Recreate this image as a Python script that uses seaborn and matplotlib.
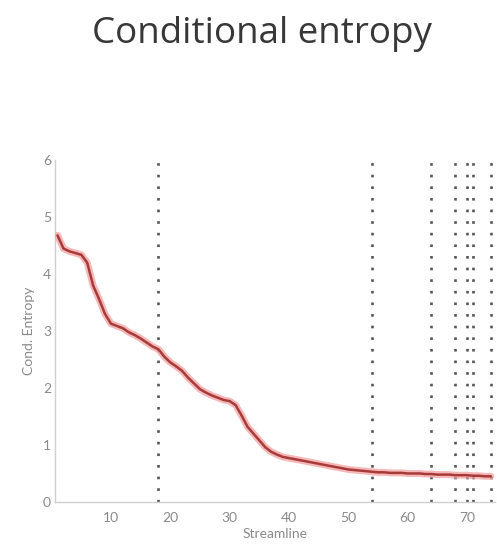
import numpy as np
import pandas as pd
import matplotlib
matplotlib.use("Agg")
import matplotlib.pyplot as plt
import seaborn as sns

# ---- data ----
streamline = list(range(1, 75))
cond_entropy = [4.68, 4.45, 4.40, 4.37, 4.34, 4.20, 3.80, 3.56, 3.30, 3.13,
                3.09, 3.05, 2.98, 2.93, 2.87, 2.80, 2.73, 2.68, 2.55, 2.45,
                2.38, 2.30, 2.18, 2.08, 1.98, 1.92, 1.87, 1.83, 1.79, 1.77,
                1.70, 1.52, 1.32, 1.20, 1.08, 0.96, 0.88, 0.83, 0.79, 0.77,
                0.75, 0.73, 0.71, 0.69, 0.67, 0.65, 0.63, 0.61, 0.59, 0.57,
                0.56, 0.55, 0.54, 0.53, 0.52, 0.52, 0.51, 0.51, 0.51, 0.50,
                0.50, 0.50, 0.49, 0.49, 0.48, 0.48, 0.48, 0.47, 0.47, 0.47,
                0.46, 0.46, 0.45, 0.45]
cut_points = [18, 54, 64, 68, 70, 71, 74]
x_ticks = [10, 20, 30, 40, 50, 60, 70]
y_ticks = [0, 1, 2, 3, 4, 5, 6]
title = "Conditional entropy"
x_label = "Streamline"
y_label = "Cond. Entropy"

df = pd.DataFrame({"Streamline": streamline, "Entropy": cond_entropy})

sns.set_style("white")
plt.rcParams["font.family"] = ["Lato", "DejaVu Sans"]

fig = plt.figure(figsize=(4.97, 5.45), dpi=100)
ax = fig.add_axes([0.111, 0.079, 0.885, 0.627])

# dotted vertical lines
ax.vlines(cut_points, 0, 6, colors="#555555", linewidth=1.9,
          linestyles=[(0, (1.0, 3.4))])

# red curve with pink halo
sns.lineplot(data=df, x="Streamline", y="Entropy", ax=ax, color="#f2a0a0",
             linewidth=5, alpha=0.75, zorder=3)
sns.lineplot(data=df, x="Streamline", y="Entropy", ax=ax, color="#a83a3a",
             linewidth=1.8, zorder=4)

ax.set_xlim(0.6, 74.7)
ax.set_ylim(0, 6)
ax.set_xticks(x_ticks)
ax.set_yticks(y_ticks)
ax.tick_params(axis="x", labelsize=10, length=0, pad=7)
ax.tick_params(axis="y", labelsize=10, length=0, pad=3)
for lbl in ax.get_xticklabels() + ax.get_yticklabels():
    lbl.set_color("#8a8a8a")
ax.set_xlabel(x_label, fontsize=10, color="#8a8a8a", labelpad=3)
ax.set_ylabel(y_label, fontsize=10, color="#8a8a8a", labelpad=6)

for s in ["top", "right"]:
    ax.spines[s].set_visible(False)
for s in ["left", "bottom"]:
    ax.spines[s].set_color("#cfcfcf")
    ax.spines[s].set_linewidth(1.0)

fig.text(0.527, 0.921, title, ha="center", va="baseline", fontsize=26.5,
         color="#383838", family=["Open Sans", "DejaVu Sans"])

fig.savefig("out.png", dpi=100)
